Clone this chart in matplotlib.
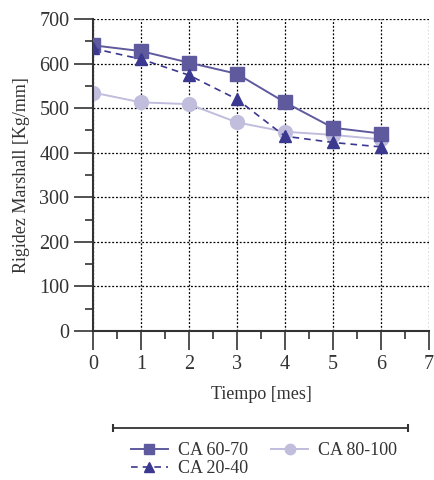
import matplotlib
matplotlib.use("Agg")
import matplotlib.pyplot as plt
from matplotlib.ticker import MultipleLocator

plt.rcParams.update({"font.family": "Liberation Serif", "font.size": 13})

# data
meses = [0, 1, 2, 3, 4, 5, 6]
ca_60_70 = [641, 628, 602, 577, 513, 456, 443]
ca_20_40 = [634, 610, 574, 520, 437, 423, 413]
ca_80_100 = [535, 513, 509, 468, 447, 440, 430]

c_sq = "#5f5a9e"
c_tri = "#3b3890"
c_circ = "#c0bddd"

fig = plt.figure(figsize=(4.34, 4.8), dpi=100)
ax = fig.add_axes([0.2143, 0.3104, 0.7742, 0.65])

ax.plot(meses, ca_60_70, "-s", color=c_sq, lw=1.4, ms=10, label="CA 60-70", zorder=3)
ax.plot(meses, ca_20_40, "--^", color=c_tri, lw=1.2, ms=9, label="CA 20-40",
        dashes=(4, 3), zorder=4)
ax.plot(meses, ca_80_100, "-o", color=c_circ, lw=1.4, ms=10, label="CA 80-100", zorder=2)

ax.set_xlim(0, 7)
ax.set_ylim(0, 700)
ax.xaxis.set_major_locator(MultipleLocator(1))
ax.xaxis.set_minor_locator(MultipleLocator(0.5))
ax.yaxis.set_major_locator(MultipleLocator(100))
ax.yaxis.set_minor_locator(MultipleLocator(50))
ax.tick_params(which="major", length=14, width=1.2, color="#333333",
               labelcolor="#333333", labelsize=14.5, pad=3)
ax.tick_params(which="minor", length=6, width=1.2, color="#333333")
ax.grid(True, which="major", color="black", ls=(0, (1.5, 1.5)), lw=0.9)
ax.set_axisbelow(True)
for s in ["top", "right"]:
    ax.spines[s].set_visible(False)
for s in ["left", "bottom"]:
    ax.spines[s].set_linewidth(1.5)
    ax.spines[s].set_color("#333333")

ax.set_xlabel("Tiempo [mes]", color="#333333", labelpad=9)
ax.set_ylabel("Rigidez Marshall [Kg/mm]", color="#333333", labelpad=7)

# horizontal bar above the legend
fig.add_artist(matplotlib.lines.Line2D([113 / 434, 408 / 434], [1 - 428 / 480] * 2,
                                       color="#333333", lw=1.3,
                                       marker="|", ms=6, mew=1.5))

h, l = ax.get_legend_handles_labels()
leg = fig.legend(h, l, ncol=2, loc="upper left", bbox_to_anchor=(0.285, 0.094),
                 frameon=False, handlelength=2.05, columnspacing=1.3, labelspacing=0.05,
                 handletextpad=0.55, borderaxespad=0, markerscale=0.75, fontsize=13)
for t in leg.get_texts():
    t.set_color("#333333")

fig.savefig("out.png", dpi=100)
